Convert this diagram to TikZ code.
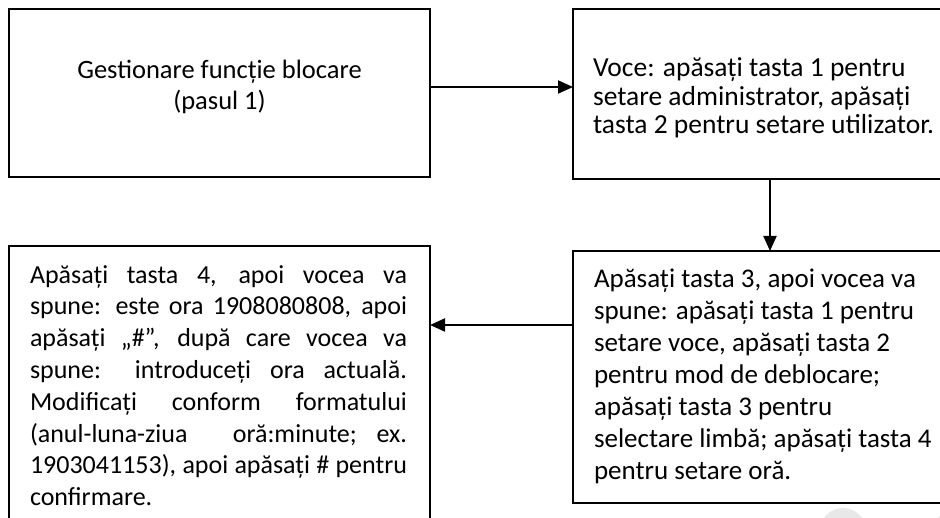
\documentclass[tikz,border=0pt]{standalone}
\usepackage{fontspec}
\setmainfont{Carlito}
\usetikzlibrary{arrows.meta,calc}
\begin{document}
\begin{tikzpicture}[x=1pt,y=-1pt,
  box/.style={draw, line width=1.3pt, inner sep=0pt, outer sep=0pt, anchor=north west},
  txt/.style={inner sep=0pt, outer sep=0pt, align=left},
  arr/.style={line width=2pt, -{Triangle[length=15pt,width=13pt]}}]
\clip (0,0) rectangle (940,518);
\fill[white] (0,0) rectangle (940,518);
% faint watermark
\fill[black!9] (843,531) circle (23);
\fill[black!9] (962,536) circle (30);
% boxes
\node[box, minimum width=421, minimum height=168] (b1) at (9,9) {};
\node[box, minimum width=400, minimum height=170] (b2) at (573,9) {};
\node[box, minimum width=400, minimum height=252] (b3) at (573,251) {};
\node[box, minimum width=421, minimum height=320] (b4) at (9,246) {};
% texts (anchor base = baseline of last line)
\node[txt, align=center, anchor=base, font=\fontsize{26.5}{31}\selectfont] (t1) at (219.5,110)
  {Gestionare funcție blocare\\(pasul 1)};
\node[txt, anchor=base west, font=\fontsize{27.5}{28.5}\selectfont] (t2) at (593,134)
  {Voce: apăsați tasta 1 pentru\\setare administrator, apăsați\\tasta 2 pentru setare utilizator.};
\node[txt, anchor=base west, font=\fontsize{27}{32}\selectfont] (t3) at (594,479.5)
  {Apăsați tasta 3, apoi vocea va\\spune: apăsați tasta 1 pentru\\setare voce, apăsați tasta 2\\pentru mod de deblocare;\\apăsați tasta 3 pentru\\selectare limbă; apăsați tasta 4\\pentru setare oră.};
\node[txt, anchor=base west, font=\fontsize{26}{31.8}\selectfont] (t4) at (30,505.6)
  {\makebox[377pt][s]{Apăsați tasta 4, apoi vocea va}\\
   \makebox[377pt][s]{spune: este ora 1908080808, apoi}\\
   \makebox[377pt][s]{apăsați „\#”, după care vocea va}\\
   \makebox[377pt][s]{spune: introduceți ora actuală.}\\
   \makebox[377pt][s]{Modificați conform formatului}\\
   \makebox[377pt][s]{(anul-luna-ziua \ \ oră:minute; ex.}\\
   \makebox[377pt][s]{1903041153), apoi apăsați \# pentru}\\
   confirmare.};
% connectors
\draw[arr] ([yshift=6pt]b1.east) -- ([yshift=6pt]b1.east -| b2.west);
\draw[arr] ([xshift=-3pt]b2.south) -- ([xshift=-3pt]b2.south |- b3.north);
\draw[arr] ([yshift=52pt]b3.west) -- ([yshift=52pt]b3.west -| b4.east);
\end{tikzpicture}
\end{document}
